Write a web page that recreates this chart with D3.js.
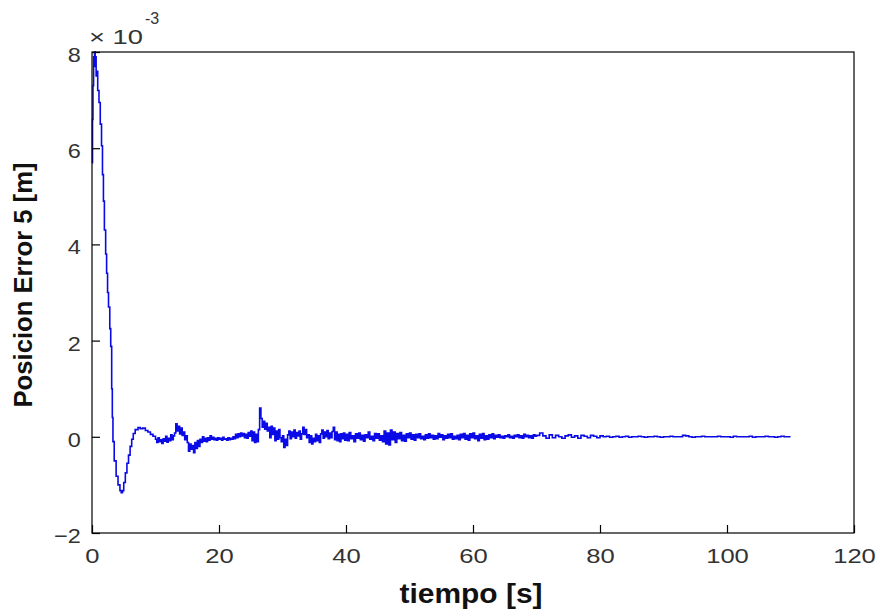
<!DOCTYPE html>
<html>
<head>
<meta charset="utf-8">
<script src="https://cdn.jsdelivr.net/npm/d3@7"></script>
<style>
  body { margin: 0; background: #fff; }
  text { font-family: "Liberation Sans", Arial, sans-serif; }
</style>
</head>
<body>
<div class="container"></div>
<script>
// transient part [t, error x1e-3]
const transientPoints = [
  [0, 5.7], [0.08, 6.6], [0.15, 7.3], [0.25, 7.9], [0.4, 8.0], [0.5, 7.7], [0.55, 7.9],
  [0.65, 7.5], [0.75, 7.6], [0.9, 7.2], [1.1, 6.95], [1.3, 6.5], [1.5, 6.05], [1.65, 5.45],
  [1.8, 4.9], [1.95, 4.3], [2.15, 3.8], [2.3, 3.4], [2.45, 3.0], [2.6, 2.7], [2.8, 2.25],
  [2.95, 1.88], [3.1, 1.0], [3.2, 0.4], [3.3, -0.1], [3.5, -0.5], [3.8, -0.82], [4.1, -1.0],
  [4.4, -1.12], [4.6, -1.16], [4.8, -1.12], [5.0, -0.95], [5.25, -0.75], [5.5, -0.55],
  [5.75, -0.38], [6.0, -0.2], [6.25, -0.05], [6.5, 0.07], [6.8, 0.15], [7.25, 0.19],
  [7.6, 0.17], [8.0, 0.18], [8.4, 0.13], [8.8, 0.1], [9.2, 0.05], [9.6, 0.01]
]

// noise from 10 s to 40 s, one value every 0.2 s
const noiseA = [
  -0.05, -0.12, -0.02, -0.10, -0.06,
  -0.14, -0.04, -0.09, 0.01, -0.11,
  -0.03, -0.08, 0.04, -0.06, 0.02,
  0.08, 0.27, 0.12, 0.22, 0.06,
  0.18, 0.03, 0.10, -0.06, 0.02,
  -0.12, -0.30, -0.15, -0.26, -0.18,
  -0.33, -0.12, -0.24, -0.08, -0.20,
  -0.05, -0.12, 0.00, -0.09, -0.03,
  -0.10, -0.02, -0.07, 0.02, -0.05,
  -0.01, -0.06, -0.03, -0.07, -0.02,
  -0.05, -0.03, -0.07, -0.01, -0.05,
  -0.04, -0.07, -0.02, -0.06, -0.03,
  -0.05, 0.00, -0.04, 0.05, -0.02,
  0.06, 0.00, 0.08, 0.02, 0.07,
  -0.02, 0.05, -0.03, 0.09, 0.01,
  0.12, -0.08, 0.10, -0.12, 0.05,
  -0.10, 0.15, 0.60, 0.38, 0.20,
  0.32, 0.16, 0.28, 0.12, 0.20,
  -0.02, 0.22, 0.05, 0.18, -0.08,
  0.12, -0.05, 0.15, -0.02, -0.10,
  0.02, -0.22, -0.05, -0.18, 0.04,
  0.12, -0.04, 0.10, 0.00, 0.14,
  -0.03, 0.09, 0.02, 0.12, -0.05,
  0.06, 0.20, 0.05, 0.15, -0.02,
  0.04, -0.12, 0.02, -0.15, -0.03,
  -0.10, 0.05, -0.08, 0.02, -0.12,
  0.06, 0.14, -0.03, 0.10, 0.00,
  0.13, -0.04, 0.08, -0.02, 0.11,
  0.20, -0.06, 0.10, -0.08, 0.05,
  -0.10, 0.06, -0.04, 0.08, -0.07
]

// 40 s to 70 s, every 0.25 s
const noiseB = [
  0.05, -0.08, 0.09, -0.04,
  0.02, -0.10, 0.06, -0.03,
  0.08, -0.06, 0.03, -0.09,
  0.04, -0.02, 0.10, -0.05,
  0.01, -0.08, 0.07, -0.03,
  0.06, -0.07, 0.02, -0.10,
  0.12, -0.15, 0.08, -0.17,
  0.14, -0.06, 0.10, -0.12,
  0.07, -0.04, 0.09, -0.08,
  0.03, -0.09, 0.06, -0.02,
  0.08, -0.05, 0.04, -0.07,
  0.05, -0.02, 0.06, -0.04,
  0.01, -0.06, 0.04, -0.03,
  0.06, -0.02, 0.03, -0.05,
  0.02, -0.04, 0.07, -0.01,
  0.04, -0.06, 0.02, -0.03,
  0.05, -0.02, 0.06, -0.05,
  0.01, -0.04, 0.03, -0.06,
  0.05, -0.02, 0.07, -0.05,
  0.03, -0.07, 0.06, -0.02,
  0.08, -0.04, 0.02, -0.08,
  0.05, -0.03, 0.07, -0.06,
  0.02, -0.05, 0.04, -0.02,
  0.06, -0.04, 0.03, -0.01,
  0.04, -0.02, 0.01, -0.03,
  0.02, 0.00, 0.04, -0.02,
  0.01, -0.03, 0.03, 0.00,
  0.04, -0.02, 0.02, -0.03,
  0.05, 0.00, 0.03, -0.02,
  0.02, -0.03, 0.04, 0.01
]

// 70 s to 110 s, every 0.5 s
const noiseC = [
  0.03, 0.08, 0.02, -0.03, 0.04, -0.02, 0.03, 0.00, -0.03, 0.02,
  0.04, -0.01, 0.02, -0.03, 0.03, 0.01, -0.02, 0.03, 0.01, -0.02,
  0.02, 0.00, 0.01, -0.01, 0.00, 0.01, -0.01, 0.00, 0.01, -0.01,
  0.00, 0.00, 0.01, 0.00, -0.01, 0.00, 0.00, 0.01, 0.00, -0.01,
  0.00, 0.00, 0.01, 0.00, 0.00, 0.00, 0.03, 0.02, 0.00, -0.01,
  0.00, 0.00, 0.01, 0.00, 0.00, 0.00, 0.00, 0.01, 0.00, 0.00,
  0.00, -0.01, 0.01, 0.00, 0.00, 0.00, 0.00, 0.01, -0.01, 0.00,
  0.00, 0.00, 0.01, 0.00, 0.00, -0.01, 0.00, 0.01, 0.00, 0.00,
  0.00
]

const xTicks = [0, 20, 40, 60, 80, 100, 120]
const yTicks = [-2, 0, 2, 4, 6, 8]

const width = 885
const height = 614
const margin = {top: 52, right: 31, bottom: 81, left: 92}
const plotW = width - margin.left - margin.right
const plotH = height - margin.top - margin.bottom

// build the series from the pieces
const series = transientPoints.map(p => ({t: p[0], v: p[1]}))
noiseA.forEach((v, i) => series.push({t: 10 + i * 0.2, v: v}))
noiseB.forEach((v, i) => series.push({t: 40 + i * 0.25, v: v}))
noiseC.forEach((v, i) => series.push({t: 70 + i * 0.5, v: v}))

const svg = d3.select(".container")
              .append("svg")
              .attr("width", width)
              .attr("height", height)

const xScale = d3.scaleLinear().domain([0, 120]).range([0, plotW])
const yScale = d3.scaleLinear().domain([-2, 8]).range([plotH, 0])

const g = svg.append("g")
             .attr("transform", "translate(" + margin.left + "," + margin.top + ")")

// stairs, the logged signal is sample-and-hold
const line = d3.line()
               .x(d => xScale(d.t))
               .y(d => yScale(d.v))
               .curve(d3.curveStepAfter)

g.append("path")
 .datum(series)
 .attr("fill", "none")
 .attr("stroke", "#0a0ae6")
 .attr("stroke-width", 1.6)
 .attr("d", line)

// frame
g.append("rect")
 .attr("width", plotW)
 .attr("height", plotH)
 .attr("fill", "none")
 .attr("stroke", "#000")
 .attr("stroke-width", 1.2)

const xAxis = d3.axisBottom(xScale).tickValues(xTicks).tickSizeInner(-8).tickSizeOuter(0).tickPadding(15)
const yAxis = d3.axisLeft(yScale).tickValues(yTicks).tickSizeInner(-8).tickSizeOuter(0).tickPadding(10)

const gx = g.append("g")
            .attr("transform", "translate(0," + plotH + ")")
            .call(xAxis)
gx.select(".domain").remove()
gx.selectAll("line").attr("stroke", "#000").attr("stroke-width", 1.2)
gx.selectAll("text")
  .attr("font-size", 21)
  .attr("fill", "#333")
  .attr("transform", "scale(1.22,1)")

const gy = g.append("g").call(yAxis)
gy.select(".domain").remove()
gy.selectAll("line").attr("stroke", "#000").attr("stroke-width", 1.2)
gy.selectAll("text")
  .attr("font-size", 21)
  .attr("fill", "#333")
  .attr("dy", "0.45em")
  .attr("transform", "scale(1.12,1)")

// exponent label
svg.append("text")
   .attr("x", 89)
   .attr("y", 44)
   .attr("font-size", 20)
   .attr("fill", "#333")
   .attr("textLength", 54)
   .attr("lengthAdjust", "spacingAndGlyphs")
   .text("× 10")
svg.append("text")
   .attr("x", 145)
   .attr("y", 24)
   .attr("font-size", 16)
   .attr("fill", "#333")
   .text("-3")

svg.append("text")
   .attr("x", 471)
   .attr("y", 603)
   .attr("text-anchor", "middle")
   .attr("font-size", 28)
   .attr("font-weight", "bold")
   .attr("fill", "#111")
   .attr("textLength", 143)
   .attr("lengthAdjust", "spacingAndGlyphs")
   .text("tiempo [s]")

svg.append("text")
   .attr("transform", "translate(32,285) rotate(-90)")
   .attr("text-anchor", "middle")
   .attr("font-size", 25)
   .attr("font-weight", "bold")
   .attr("fill", "#111")
   .attr("textLength", 245)
   .attr("lengthAdjust", "spacingAndGlyphs")
   .text("Posicion Error 5 [m]")
</script>
</body>
</html>
